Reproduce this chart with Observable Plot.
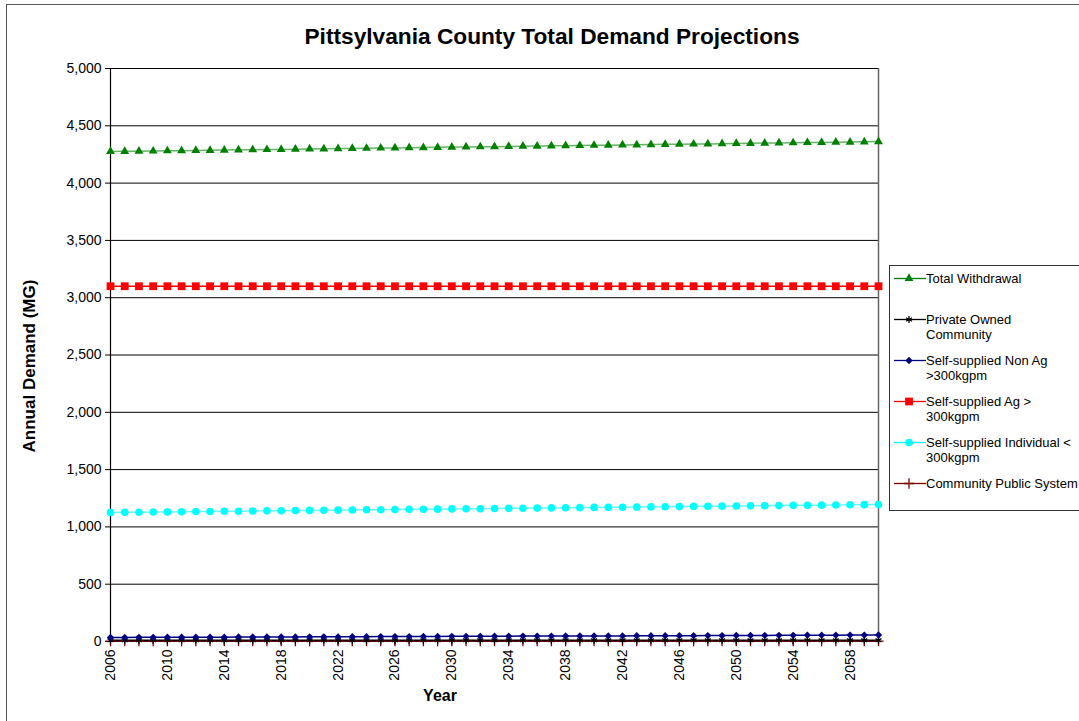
<!DOCTYPE html>
<html><head><meta charset="utf-8">
<script src="https://cdn.jsdelivr.net/npm/d3@7"></script>
<script src="https://cdn.jsdelivr.net/npm/@observablehq/plot@0.6"></script>
<style>
body{margin:0;background:#fff;font-family:"Liberation Sans",Arial,sans-serif;}
#wrap{position:relative;width:1079px;height:721px;overflow:hidden;background:#fff;}
#border{position:absolute;left:6px;top:4px;width:1200px;height:800px;border:1px solid #555;}
#chart{position:absolute;left:0;top:0;}
#title{position:absolute;left:552px;top:36px;transform:translate(-50%,-50%);font-weight:bold;font-size:22.7px;color:#000;white-space:nowrap;}
#ylab{position:absolute;left:30px;top:366px;transform:translate(-50%,-50%) rotate(-90deg);font-weight:bold;font-size:17px;white-space:nowrap;}
#xlab{position:absolute;left:440px;top:696px;transform:translate(-50%,-50%);font-weight:bold;font-size:16px;}
#legend{position:absolute;left:889px;top:265px;width:230px;height:244px;border:1px solid #333;background:#fff;}
.row{position:absolute;left:0;}
.row svg{position:absolute;left:3px;top:0;}
.row div{position:absolute;left:36px;top:0;font-size:13px;line-height:15px;white-space:pre;color:#000;}
</style></head>
<body>
<div id="wrap">
  <div id="border"></div>
  <div id="chart"></div>
  <div id="title">Pittsylvania County Total Demand Projections</div>
  <div id="ylab">Annual Demand (MG)</div>
  <div id="xlab">Year</div>
  <div id="legend"></div>
</div>
<script>
const years = [2006,2007,2008,2009,2010,2011,2012,2013,2014,2015,2016,2017,2018,2019,2020,2021,2022,2023,2024,2025,2026,2027,2028,2029,2030,2031,2032,2033,2034,2035,2036,2037,2038,2039,2040,2041,2042,2043,2044,2045,2046,2047,2048,2049,2050,2051,2052,2053,2054,2055,2056,2057,2058,2059,2060];
const xTicks = [2006,2010,2014,2018,2022,2026,2030,2034,2038,2042,2046,2050,2054,2058];
const yTicks = [0,500,1000,1500,2000,2500,3000,3500,4000,4500,5000];

const totalWithdrawal = [4276,4277,4279,4280,4282, 4283,4285,4286,4288,4290, 4291,4293,4294,4296,4298, 4299,4301,4302,4304,4306, 4307,4309,4310,4312,4314, 4315,4317,4318,4320,4322, 4323,4325,4326,4328,4330, 4331,4333,4334,4336,4338, 4339,4341,4342,4344,4346, 4347,4349,4350,4352,4354, 4355,4357,4358,4360,4362];
const privateOwned = [10,10,10,10,10, 10,10,10,10,10, 10,10,10,10,10, 10,10,10,10,10, 10,10,10,10,10, 10,10,10,10,10, 10,10,10,10,10, 10,10,10,10,10, 10,10,10,10,10, 10,10,10,10,10, 10,10,10,10,10];
const nonAg = [35,35,36,36,37, 37,37,38,38,39, 39,39,40,40,41, 41,41,42,42,43, 43,43,44,44,45, 45,45,46,46,47, 47,47,48,48,49, 49,49,50,50,51, 51,51,52,52,53, 53,53,54,54,55, 55,55,56,56,57];
const ag = [3100,3100,3100,3100,3100, 3100,3100,3100,3100,3100, 3100,3100,3100,3100,3100, 3100,3100,3100,3100,3100, 3100,3100,3100,3100,3100, 3100,3100,3100,3100,3100, 3100,3100,3100,3100,3100, 3100,3100,3100,3100,3100, 3100,3100,3100,3100,3100, 3100,3100,3100,3100,3100, 3100,3100,3100,3100,3100];
const individual = [1126,1127,1128,1130,1131, 1132,1134,1135,1136,1137, 1139,1140,1141,1143,1144, 1145,1146,1148,1149,1150, 1152,1153,1154,1155,1157, 1158,1159,1161,1162,1163, 1164,1166,1167,1168,1170, 1171,1172,1173,1175,1176, 1177,1179,1180,1181,1182, 1184,1185,1186,1188,1189, 1190,1191,1193,1194,1195];
const communityPublic = [4,4,4,4,4, 4,4,4,4,4, 4,4,4,4,4, 4,4,4,4,4, 4,4,4,4,4, 4,4,4,4,4, 4,4,4,4,4, 4,4,4,4,4, 4,4,4,4,4, 4,4,4,4,4, 4,4,4,4,4];

const seriesNames = ["Total Withdrawal","Private Owned\nCommunity","Self-supplied Non Ag\n>300kgpm","Self-supplied Ag >\n300kgpm","Self-supplied Individual <\n300kgpm","Community Public System"];
const seriesValues = [totalWithdrawal, privateOwned, nonAg, ag, individual, communityPublic];

// styles
const colors = ["#008000","#000000","#000080","#ff0000","#00ffff","#800000"];
const symbols = ["triangle","asterisk","diamond2","square","circle","plus"];
const radii = [3.3,3.2,3.3,4.4,3.8,3.4];
const stroked = [false,true,false,false,false,true];
const lineOrder = [5,1,2,0,3,4]; // draw order

const data = seriesNames.map((name, i) => years.map((y, j) => ({year: y, value: seriesValues[i][j], series: i})));

const marks = [
  Plot.ruleY(yTicks, {stroke: "#000", strokeWidth: 1}),
  Plot.ruleX([2060], {stroke: "#666", strokeWidth: 1.5}),
  Plot.ruleX([2006], {stroke: "#000", strokeWidth: 1.2}),
  Plot.axisY({ticks: yTicks, tickFormat: d3.format(","), tickSize: 5, tickPadding: 4, label: null, fontSize: 14}),
  Plot.axisX({ticks: xTicks, tickFormat: d => String(d), tickRotate: -90, tickSize: 4, tickPadding: 4, label: null, fontSize: 14})
];
for (const i of lineOrder) {
  marks.push(Plot.line(data[i], {x: "year", y: "value", stroke: colors[i], strokeWidth: 1.5, strokeOpacity: i === 0 || i === 4 ? 0.6 : 1}));
}
for (const i of lineOrder) {
  marks.push(Plot.dot(data[i], stroked[i]
    ? {x: "year", y: "value", symbol: symbols[i], r: radii[i], stroke: colors[i], strokeWidth: 1.3}
    : {x: "year", y: "value", symbol: symbols[i], r: radii[i], fill: colors[i], stroke: "none"}));
}

const chart = Plot.plot({
  width: 1079, height: 721,
  marginLeft: 110, marginRight: 201, marginTop: 68, marginBottom: 80,
  style: {fontFamily: '"Liberation Sans", Arial, sans-serif', fontSize: "14px", color: "#000", background: "transparent"},
  x: {domain: [2006, 2060]},
  y: {domain: [0, 5000]},
  marks
});
document.getElementById("chart").appendChild(chart);

// legend
const leg = document.getElementById("legend");
const symMap = {triangle: d3.symbolTriangle, asterisk: d3.symbolAsterisk, diamond2: d3.symbolDiamond2, square: d3.symbolSquare, circle: d3.symbolCircle, plus: d3.symbolPlus};
seriesNames.forEach((name, i) => {
  const row = document.createElement("div");
  row.className = "row";
  row.style.top = (4.5 + i * 41) + "px";
  const svg = d3.create("svg").attr("width", 34).attr("height", 15);
  svg.append("line").attr("x1", 1).attr("x2", 33).attr("y1", 7.5).attr("y2", 7.5).attr("stroke", colors[i]).attr("stroke-width", 1.3);
  const p = svg.append("path").attr("transform", "translate(16,7.5)")
    .attr("d", d3.symbol(symMap[symbols[i]], Math.PI * radii[i] * radii[i])());
  if (stroked[i]) p.attr("fill", "none").attr("stroke", colors[i]).attr("stroke-width", 1.3);
  else p.attr("fill", colors[i]);
  row.appendChild(svg.node());
  const t = document.createElement("div");
  t.textContent = name;
  row.appendChild(t);
  leg.appendChild(row);
});
</script>
</body></html>
